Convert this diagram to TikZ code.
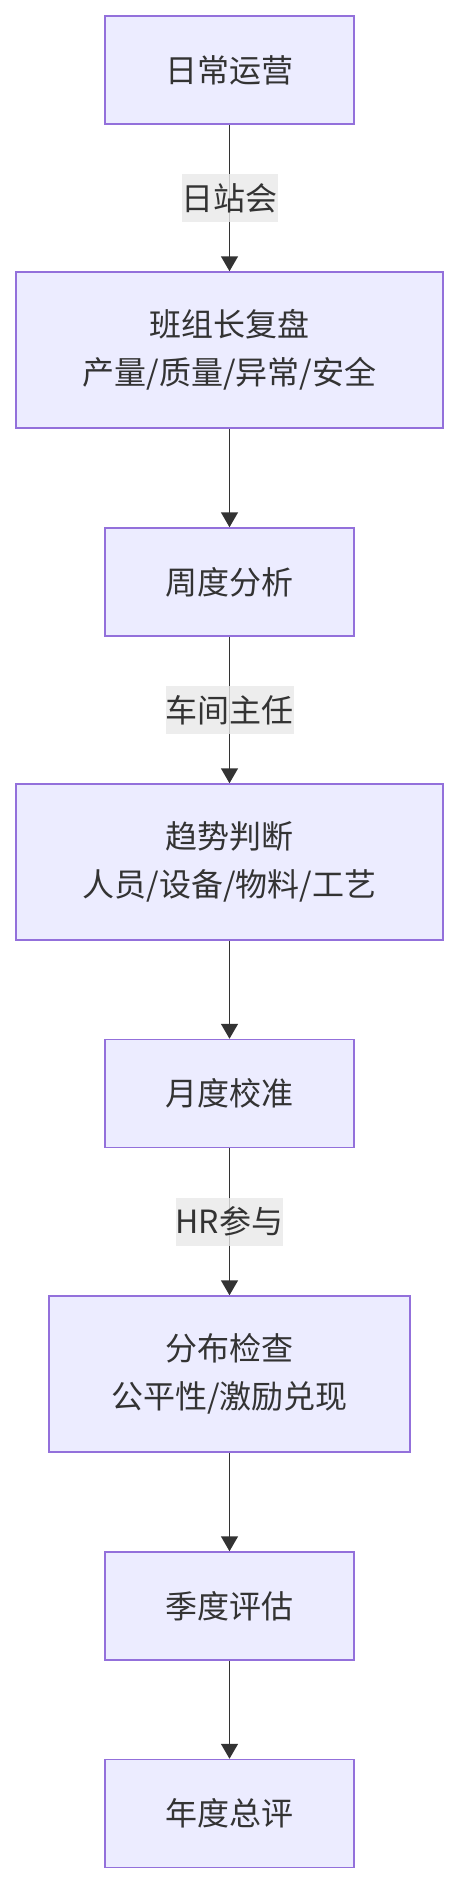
\documentclass[tikz,border=0pt]{standalone}
\usepackage{fontspec}
\newfontfamily\cjk{Noto Sans CJK SC}
\usetikzlibrary{arrows.meta}
\definecolor{boxfill}{HTML}{ECECFF}
\definecolor{boxline}{HTML}{9370DB}
\definecolor{darkline}{HTML}{333333}
\definecolor{lblfill}{HTML}{E8E8E8}
\tikzset{
	stage/.style={draw=boxline, fill=boxfill, line width=1.5pt, inner sep=0pt,
		minimum height=108pt, align=center, text=darkline,
		font=\cjk\fontsize{32pt}{48pt}\selectfont},
	lbl/.style={fill=lblfill, fill opacity=0.8, text opacity=1, inner sep=0pt,
		minimum height=48pt, text=darkline, font=\cjk\fontsize{32pt}{48pt}\selectfont},
}
\begin{document}
\begin{tikzpicture}[x=1pt, y=-1pt, >={Triangle[width=17pt,length=15pt]}]
		\useasboundingbox (0,0) rectangle (458,1884);
		\node[stage, minimum width=249pt] (1) at (229.5,70) {日常运营};
		\node[stage, minimum width=427pt, minimum height=156pt] (2) at (229.5,350) {班组长复盘\\产量/质量/异常/安全};
		\node[stage, minimum width=249pt] (3) at (229.5,582) {周度分析};
		\node[stage, minimum width=427pt, minimum height=156pt] (4) at (229.5,862) {趋势判断\\人员/设备/物料/工艺};
		\node[stage, minimum width=249pt] (5) at (229.5,1093.5) {月度校准};
		\node[stage, minimum width=361pt, minimum height=156pt] (6) at (229.5,1374) {分布检查\\公平性/激励兑现};
		\node[stage, minimum width=249pt] (7) at (229.5,1606) {季度评估};
		\node[stage, minimum width=249pt] (8) at (229.5,1813.5) {年度总评};
		\draw[->, darkline, line width=1.5pt] (1) -- node[lbl] (l1) {日站会} (2);
		\draw[->, darkline, line width=1.5pt] (2) -- (3);
		\draw[->, darkline, line width=1.5pt] (3) -- node[lbl] (l3) {车间主任} (4);
		\draw[->, darkline, line width=1.5pt] (4) -- (5);
		\draw[->, darkline, line width=1.5pt] (5) -- node[lbl] (l5) {HR参与} (6);
		\draw[->, darkline, line width=1.5pt] (6) -- (7);
		\draw[->, darkline, line width=1.5pt] (7) -- (8);
	\end{tikzpicture}
\end{document}
